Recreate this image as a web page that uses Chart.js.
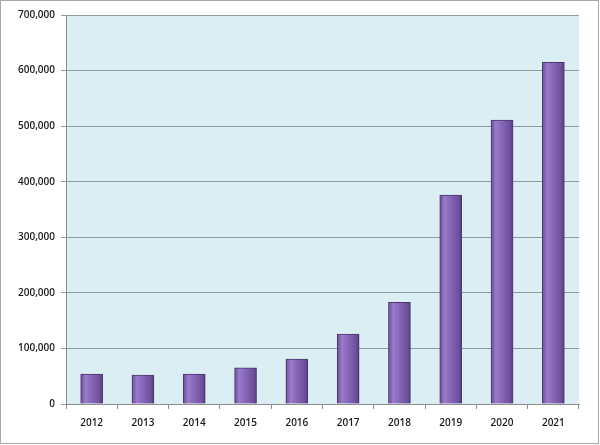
<!DOCTYPE html>
<html>
<head>
<meta charset="utf-8">
<script src="https://cdn.jsdelivr.net/npm/chart.js@4.4.1/dist/chart.umd.min.js"></script>
<style>
  body { margin: 0; background: #fff; }
  #wrap { width: 600px; height: 445px; }
</style>
</head>
<body>
<div id="wrap"><canvas id="chart" width="600" height="445"></canvas></div>
<script>
var years = ['2012', '2013', '2014', '2015', '2016', '2017', '2018', '2019', '2020', '2021'];
var values = [54000, 52000, 54000, 65000, 81000, 126000, 183000, 376000, 511000, 615000];
var yMax = 700000;
var yStep = 100000;
var barW = 22;

// light blue plot area and grey frame around the picture
var background = {
    id: 'background',
    beforeDraw: function(chart) {
        var c = chart.ctx, a = chart.chartArea;
        c.save();
        c.fillStyle = '#dbeef4';
        c.fillRect(a.left, a.top, a.right - a.left, a.bottom - a.top);
        c.restore();
    },
    afterDraw: function(chart) {
        var c = chart.ctx;
        c.save();
        c.strokeStyle = '#a8a8a8';
        c.lineWidth = 1;
        c.strokeRect(0.5, 0.5, 598, 443);
        c.restore();
    }
};

// horizontal shading so the bars look rounded
function barFill(context) {
    var chart = context.chart;
    var xs = chart.scales.x;
    if (!xs || context.dataIndex === undefined) return '#8463b4';
    var cx = xs.getPixelForValue(context.dataIndex);
    if (isNaN(cx)) return '#8463b4';
    var g = chart.ctx.createLinearGradient(cx - barW / 2, 0, cx + barW / 2, 0);
    g.addColorStop(0, '#6a4b96');
    g.addColorStop(0.22, '#9a7cca');
    g.addColorStop(0.5, '#8666b8');
    g.addColorStop(0.85, '#6f509c');
    g.addColorStop(1, '#553b7c');
    return g;
}

new Chart(document.getElementById('chart'), {
    type: 'bar',
    data: {
        labels: years,
        datasets: [{
            data: values,
            backgroundColor: barFill,
            borderColor: '#4e376f',
            borderWidth: 1,
            barThickness: barW
        }]
    },
    plugins: [background],
    options: {
        responsive: false,
        animation: false,
        layout: { padding: { top: 15, right: 21, left: 0, bottom: 0 } },
        plugins: { legend: { display: false }, tooltip: { enabled: false } },
        scales: {
            x: {
                grid: { display: true, drawOnChartArea: false, drawTicks: true, tickLength: 5, color: '#8c8c8c', offset: true },
                border: { color: '#8c8c8c' },
                ticks: { color: '#1a1a1a', font: { family: 'Open Sans', size: 10, weight: '600' }, padding: 8 },
                afterFit: function(s) { s.height = 41; }
            },
            y: {
                min: 0,
                max: yMax,
                ticks: {
                    stepSize: yStep,
                    color: '#1a1a1a',
                    font: { family: 'Open Sans', size: 10, weight: '600' },
                    padding: 6,
                    callback: function(v) { return v.toLocaleString('en-US'); }
                },
                grid: { color: '#8e9ba0', tickLength: 5 },
                border: { color: '#8c8c8c' },
                afterFit: function(s) { s.width = 66; }
            }
        }
    }
});
</script>
</body>
</html>
